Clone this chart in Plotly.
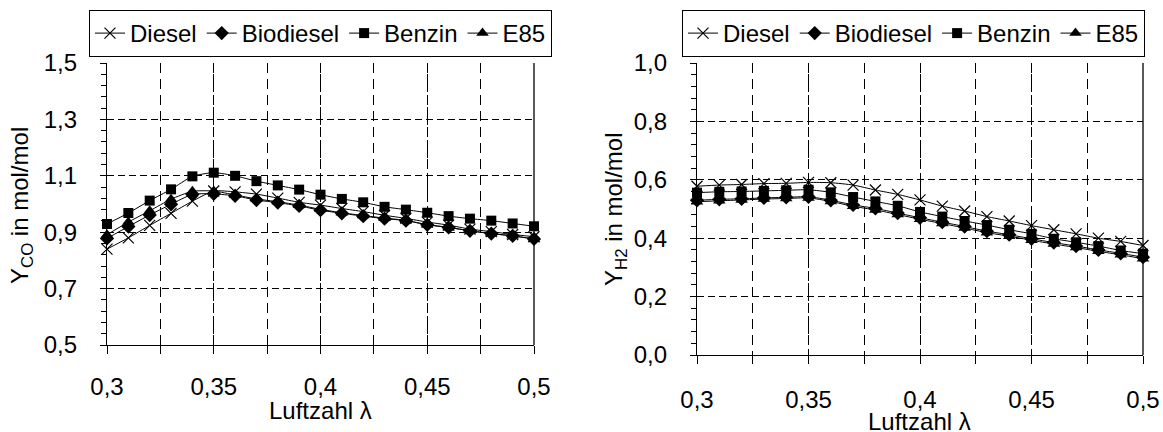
import plotly.graph_objects as go

# Luftzahl lambda (air ratio) sample points
lam = [0.30, 0.31, 0.32, 0.33, 0.34, 0.35, 0.36, 0.37, 0.38, 0.39, 0.40,
       0.41, 0.42, 0.43, 0.44, 0.45, 0.46, 0.47, 0.48, 0.49, 0.50]

# CO yield in mol/mol
co_diesel = [0.840, 0.880, 0.924, 0.967, 1.010, 1.046, 1.043, 1.035, 1.021, 1.006, 0.996,
             0.984, 0.973, 0.960, 0.949, 0.936, 0.925, 0.911, 0.902, 0.892, 0.884]
co_biodiesel = [0.878, 0.920, 0.961, 0.999, 1.034, 1.036, 1.029, 1.014, 1.005, 0.993, 0.978,
                0.967, 0.957, 0.948, 0.941, 0.926, 0.917, 0.905, 0.895, 0.887, 0.876]
co_benzin = [0.929, 0.968, 1.012, 1.052, 1.098, 1.111, 1.100, 1.081, 1.066, 1.051, 1.033,
             1.018, 1.006, 0.990, 0.980, 0.969, 0.957, 0.948, 0.941, 0.931, 0.921]
co_e85 = [0.891, 0.936, 0.976, 1.017, 1.045, 1.046, 1.032, 1.018, 1.008, 0.996, 0.981,
          0.969, 0.959, 0.950, 0.942, 0.927, 0.917, 0.905, 0.895, 0.887, 0.876]

# H2 yield in mol/mol
h2_diesel = [0.578, 0.582, 0.584, 0.587, 0.588, 0.591, 0.590, 0.582, 0.565, 0.550, 0.531,
             0.510, 0.493, 0.474, 0.459, 0.443, 0.429, 0.415, 0.400, 0.389, 0.375]
h2_biodiesel = [0.530, 0.533, 0.535, 0.538, 0.540, 0.542, 0.530, 0.514, 0.502, 0.486, 0.470,
                0.455, 0.440, 0.424, 0.412, 0.398, 0.385, 0.373, 0.360, 0.348, 0.335]
h2_benzin = [0.556, 0.559, 0.560, 0.562, 0.564, 0.566, 0.557, 0.541, 0.526, 0.511, 0.490,
             0.474, 0.459, 0.445, 0.429, 0.415, 0.398, 0.386, 0.373, 0.358, 0.347]
h2_e85 = [0.525, 0.528, 0.531, 0.534, 0.536, 0.538, 0.526, 0.509, 0.497, 0.481, 0.465,
          0.450, 0.435, 0.419, 0.407, 0.393, 0.380, 0.368, 0.355, 0.343, 0.330]

fuels = ["Diesel", "Biodiesel", "Benzin", "E85"]
symbols = {"Diesel": "x-thin", "Biodiesel": "diamond", "Benzin": "square", "E85": "triangle-up"}
sizes = {"Diesel": 11, "Biodiesel": 11, "Benzin": 10, "E85": 11}

x_ticks = [0.3, 0.35, 0.4, 0.45, 0.5]
x_labels = ["0,3", "0,35", "0,4", "0,45", "0,5"]
co_ticks = [0.5, 0.7, 0.9, 1.1, 1.3, 1.5]
co_labels = ["0,5", "0,7", "0,9", "1,1", "1,3", "1,5"]
h2_ticks = [0.0, 0.2, 0.4, 0.6, 0.8, 1.0]
h2_labels = ["0,0", "0,2", "0,4", "0,6", "0,8", "1,0"]

W, H = 1163, 432
FONT = "Arial, 'Liberation Sans', sans-serif"
FS = 24


def px_x(p):
    return p / W


def px_y(p):
    return (H - p) / H


fig = go.Figure()

panels = [
    ("x", "y", "legend", [co_diesel, co_biodiesel, co_benzin, co_e85]),
    ("x2", "y2", "legend2", [h2_diesel, h2_biodiesel, h2_benzin, h2_e85]),
]
for xa, ya, lg, series in panels:
    for name, vals in zip(fuels, series):
        sym = symbols[name]
        fig.add_trace(go.Scatter(
            x=lam, y=vals, name=name, xaxis=xa, yaxis=ya, legend=lg,
            mode="lines+markers", cliponaxis=False,
            line=dict(color="black", width=1, shape="spline", smoothing=0.6),
            marker=dict(symbol=sym, size=sizes[name], color="black",
                        line=dict(color="black", width=1.2 if sym == "x-thin" else 0)),
        ))

grid_dash = "7px,4px"
common_x = dict(
    range=[0.3, 0.5], tickmode="array", tickvals=x_ticks, ticktext=x_labels,
    showline=True, linecolor="black", linewidth=1.3,
    ticks="outside", ticklen=8, tickcolor="black", tickwidth=1.2,
    showgrid=True, gridcolor="black", gridwidth=1, griddash=grid_dash,
    minor=dict(tick0=0.3, dtick=0.025, ticks="outside", ticklen=8, tickcolor="black",
               tickwidth=1.2, showgrid=True, gridcolor="black", gridwidth=1,
               griddash="10px,6px"),
    zeroline=False, automargin=False,
    tickfont=dict(family=FONT, size=FS, color="black"),
)
common_y = dict(
    showline=True, linecolor="black", linewidth=1.3,
    ticks="outside", ticklen=6, tickcolor="black", tickwidth=1.2,
    showgrid=True, gridcolor="black", gridwidth=1, griddash=grid_dash,
    zeroline=False, ticklabelstandoff=18, automargin=False,
    tickfont=dict(family=FONT, size=FS, color="black"),
)

legend_common = dict(orientation="h", xanchor="left", yanchor="top",
                     bordercolor="black", borderwidth=1, bgcolor="white",
                     font=dict(family=FONT, size=FS, color="black"),
                     itemwidth=30, tracegroupgap=0)

fig.update_layout(
    template="none",
    width=W, height=H,
    margin=dict(l=0, r=0, t=0, b=0, pad=0, autoexpand=False),
    paper_bgcolor="white", plot_bgcolor="white",
    font=dict(family=FONT, size=FS, color="black"),
    xaxis=dict(common_x, domain=[px_x(107), px_x(534)], anchor="y", ticklabelstandoff=12),
    yaxis=dict(common_y, domain=[px_y(345), px_y(63)], anchor="x",
               range=[0.5, 1.5], tickmode="array", tickvals=co_ticks, ticktext=co_labels,
               minor=dict(tick0=0.5, dtick=0.04, ticks="outside", ticklen=5,
                          tickcolor="black", showgrid=False)),
    xaxis2=dict(common_x, domain=[px_x(697), px_x(1143)], anchor="y2", ticklabelstandoff=15),
    yaxis2=dict(common_y, domain=[px_y(355), px_y(63)], anchor="x2",
                range=[0.0, 1.0], tickmode="array", tickvals=h2_ticks, ticktext=h2_labels,
                minor=dict(tick0=0.0, dtick=0.04, ticks="outside", ticklen=5,
                           tickcolor="black", showgrid=False)),
    legend=dict(legend_common, x=px_x(89), y=px_y(10)),
    legend2=dict(legend_common, x=px_x(682), y=px_y(10)),
    showlegend=True,
)

# right-hand frame edges of both plot areas
for xr, yr in [("x domain", "y domain"), ("x2 domain", "y2 domain")]:
    fig.add_shape(type="line", xref=xr, yref=yr, x0=1, x1=1, y0=0, y1=1,
                  line=dict(color="black", width=1.3))

# axis titles
titles = [
    ("Luftzahl λ", 320.5, 410, 0),
    ("Luftzahl λ", 920, 421, 0),
    ("Y<sub>CO</sub> in mol/mol", 21, 206, -90),
    ("Y<sub>H2</sub> in mol/mol", 615, 209, -90),
]
for txt, xp, yp, ang in titles:
    fig.add_annotation(text=txt, xref="paper", yref="paper",
                       x=px_x(xp), y=px_y(yp), xanchor="center", yanchor="middle",
                       textangle=ang, showarrow=False,
                       font=dict(family=FONT, size=FS, color="black"))

fig.write_html("out.html")
